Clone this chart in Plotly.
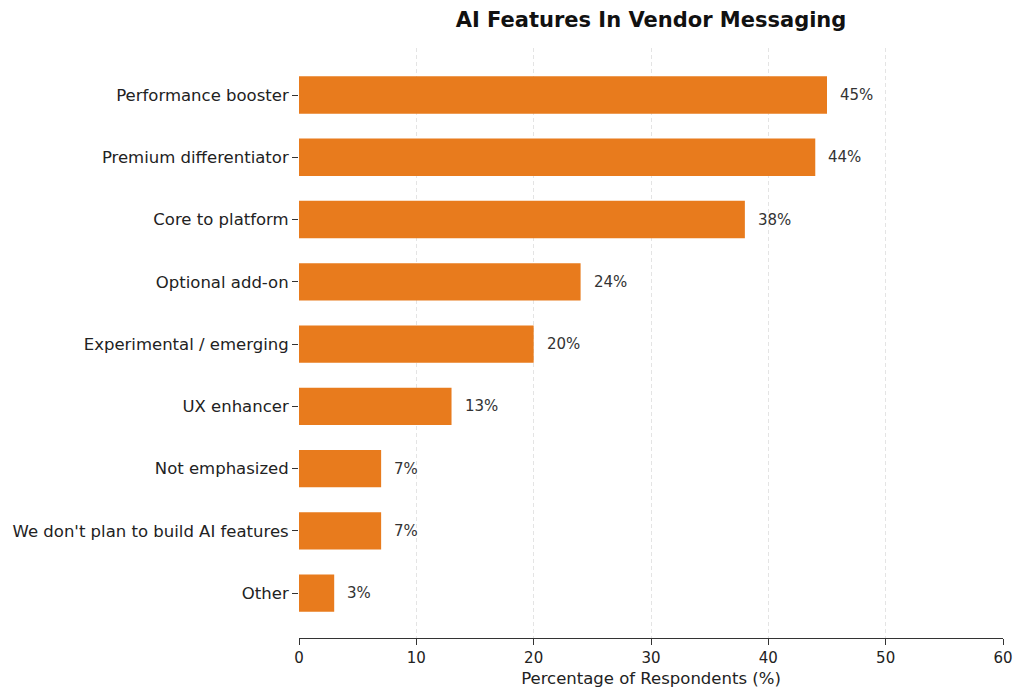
import plotly.graph_objects as go

categories = [
    "Performance booster",
    "Premium differentiator",
    "Core to platform",
    "Optional add-on",
    "Experimental / emerging",
    "UX enhancer",
    "Not emphasized",
    "We don't plan to build AI features",
    "Other",
]
values = [45, 44, 38, 24, 20, 13, 7, 7, 3]
labels = [f"{v}%" for v in values]

bar_color = "#E87B1D"
font = "DejaVu Sans, sans-serif"

fig = go.Figure()

fig.add_trace(
    go.Bar(
        x=values,
        y=categories,
        orientation="h",
        width=0.6,
        marker=dict(color=bar_color, line=dict(width=0)),
        hoverinfo="x+y",
    )
)

for cat, v, lab in zip(categories, values, labels):
    fig.add_annotation(
        x=v, y=cat, text=lab, showarrow=False,
        xanchor="left", xshift=11,
        font=dict(family=font, size=15, color="#333333"),
    )

fig.update_xaxes(
    range=[0, 60],
    dtick=10,
    showgrid=True,
    gridcolor="#e4e4e4",
    griddash="4px,3px",
    gridwidth=1,
    zeroline=False,
    showline=True,
    linecolor="#333333",
    linewidth=1.2,
    ticks="outside",
    ticklen=6,
    tickcolor="#333333",
    tickfont=dict(family=font, size=15, color="#222222"),
    title=dict(text="Percentage of Respondents (%)",
               font=dict(family=font, size=16.5, color="#222222"), standoff=6),
    automargin=False,
)

fig.update_yaxes(
    categoryorder="array",
    categoryarray=categories,
    range=[8.72, -0.755],
    showgrid=False,
    zeroline=False,
    showline=False,
    ticks="outside",
    ticklen=6,
    tickcolor="#333333",
    tickfont=dict(family=font, size=16.5, color="#222222"),
    automargin=False,
)

fig.update_layout(
    title=dict(text="<b>AI Features In Vendor Messaging</b>", x=643 / 1016, xanchor="center",
               y=1 - 12 / 690, yanchor="middle",
               font=dict(family=font, size=21, color="#111111")),
    width=1016,
    height=690,
    margin=dict(l=291, r=21, t=40, b=60),
    plot_bgcolor="white",
    paper_bgcolor="white",
    showlegend=False,
    bargap=0.4,
)

fig.write_html("out.html")
